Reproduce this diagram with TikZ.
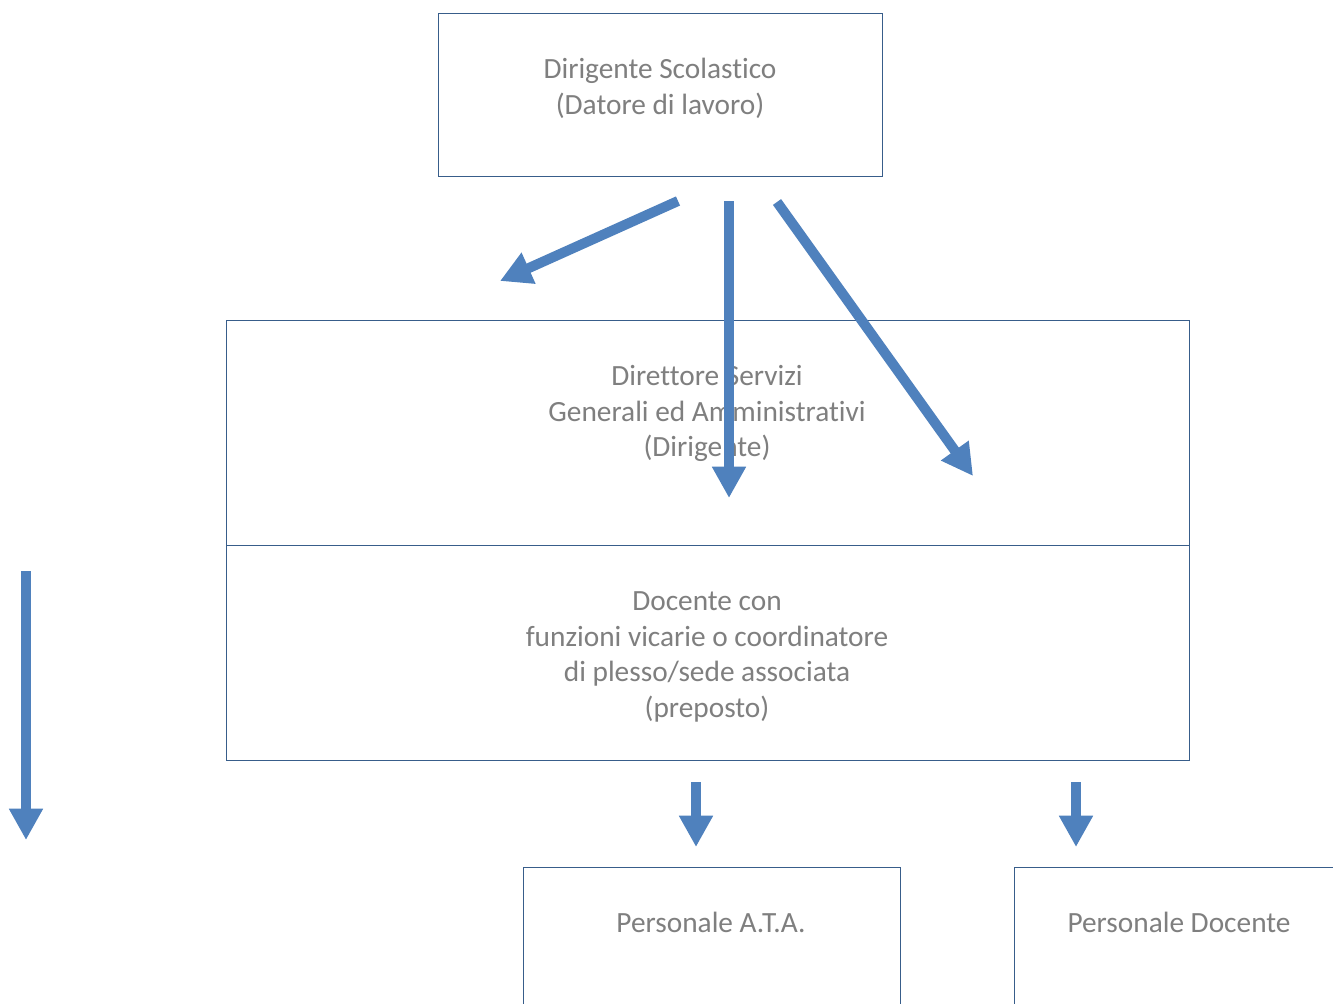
\documentclass[tikz,border=0pt]{standalone}
\usepackage{fontspec}
\setmainfont[Ligatures=NoCommon]{Carlito}
\usetikzlibrary{arrows.meta}
\definecolor{boxline}{RGB}{56,93,138}
\definecolor{arrowblue}{RGB}{79,129,189}
\definecolor{txtgray}{RGB}{127,127,127}
\begin{document}
\begin{tikzpicture}[x=0.75pt,y=-0.75pt,
  orgbox/.style={draw=boxline,line width=0.8pt,rectangle,inner sep=0pt},
  lbl/.style={text=txtgray,align=center,font=\fontsize{22}{26.7}\selectfont,inner sep=0pt},
  bigarrow/.style={draw=arrowblue,line width=7.5pt,-{Triangle[length=23.5pt,width=24pt]}}]
\useasboundingbox (0,0) rectangle (1333,1003);
\clip (0,0) rectangle (1333,1003);
\fill[white] (0,0) rectangle (1333,1003);
% boxes
\node[orgbox,minimum width=444*0.75pt,minimum height=163*0.75pt,anchor=north west] (ds) at (438,13) {};
\node[orgbox,minimum width=963*0.75pt,minimum height=225*0.75pt,anchor=north west] (dsga) at (226,320) {};
\node[orgbox,minimum width=963*0.75pt,minimum height=215*0.75pt,anchor=north west] (prep) at (226,545) {};
\node[orgbox,minimum width=377*0.75pt,minimum height=200*0.75pt,anchor=north west] (ata) at (523,867) {};
\node[orgbox,minimum width=400*0.75pt,minimum height=200*0.75pt,anchor=north west] (doc) at (1014,867) {};
% texts
\node[lbl] (tds) at (660,88.5) {Dirigente Scolastico\\(Datore di lavoro)};
\node[lbl] (tdsga) at (707,413.5) {Direttore Servizi\\Generali ed Amministrativi\\(Dirigente)};
\node[lbl] (tprep) at (707,657) {Docente con\\funzioni vicarie o coordinatore\\di plesso/sede associata\\(preposto)};
\node[lbl] (tata) at (711,922.5) {Personale A.T.A.};
\node[lbl] (tdoc) at (1179,922.5) {Personale Docente};
% arrow endpoints
\coordinate (a1s) at (678,201); \coordinate (a1e) at (500,281);
\coordinate (a2s) at (729,201); \coordinate (a2e) at (729,498);
\coordinate (a3s) at (777,202); \coordinate (a3e) at (973,476);
\coordinate (a4s) at (26,571);  \coordinate (a4e) at (26,840);
\coordinate (a5s) at (696,782); \coordinate (a5e) at (696,847);
\coordinate (a6s) at (1076,782); \coordinate (a6e) at (1076,847);
\draw[bigarrow] (a1s) -- (a1e);
\draw[bigarrow] (a2s) -- (a2e);
\draw[bigarrow] (a3s) -- (a3e);
\draw[bigarrow] (a4s) -- (a4e);
\draw[bigarrow] (a5s) -- (a5e);
\draw[bigarrow] (a6s) -- (a6e);
\end{tikzpicture}
\end{document}
